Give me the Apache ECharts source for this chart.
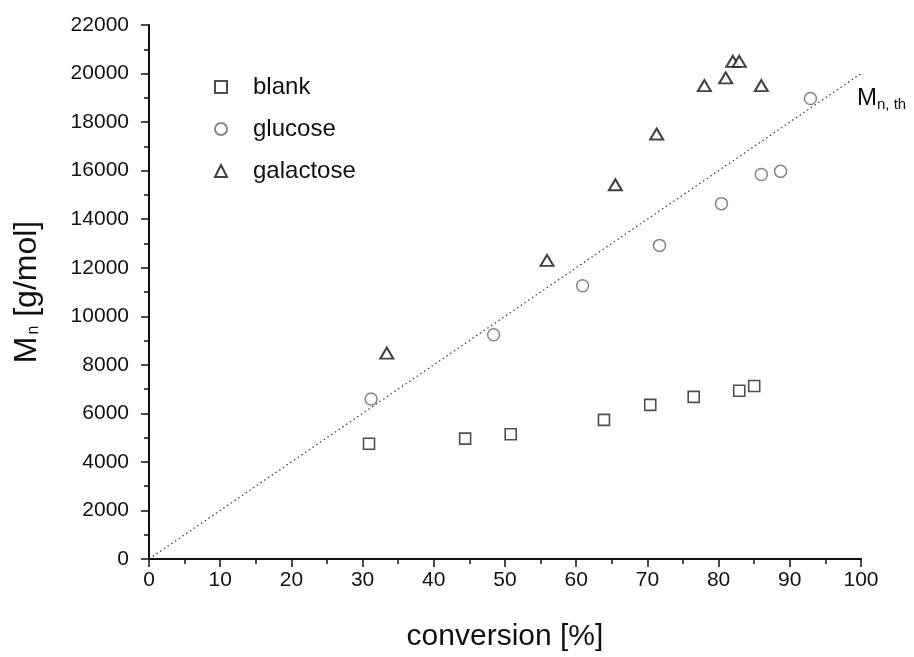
<!DOCTYPE html>
<html><head><meta charset="utf-8">
<script src="https://cdn.jsdelivr.net/npm/echarts@6/dist/echarts.min.js"></script>
<style>html,body{margin:0;padding:0;background:#fff}#c{width:914px;height:657px}</style>
</head><body><div id="c"></div>
<script>
// conversion [%] and Mn [g/mol]
const blankX = [30.9, 44.4, 50.8, 63.9, 70.4, 76.5, 82.9, 85.0];
const blankY = [4750, 4960, 5140, 5730, 6350, 6680, 6930, 7130];
const glucoseX = [31.2, 48.4, 60.9, 71.7, 80.4, 86.0, 88.7, 92.9];
const glucoseY = [6590, 9240, 11260, 12920, 14640, 15840, 15970, 18970];
const galactoseX = [33.4, 55.9, 65.5, 71.3, 78.0, 81.0, 82.0, 82.9, 86.0];
const galactoseY = [8480, 12300, 15420, 17510, 19500, 19820, 20500, 20500, 19500];
const theoryX = [0, 100];
const theoryY = [0, 20000];
const xTicks = [0, 10, 20, 30, 40, 50, 60, 70, 80, 90, 100];
const yTicks = [0, 2000, 4000, 6000, 8000, 10000, 12000, 14000, 16000, 18000, 20000, 22000];

const zip = (xs, ys) => xs.map((x, i) => [x, ys[i]]);
const FONT = 'Liberation Sans, Arial, sans-serif';

const chart = echarts.init(document.getElementById('c'));
chart.setOption({
  backgroundColor: '#fff',
  animation: false,
  grid: { left: 149, right: 53, top: 25, bottom: 98 },
  legend: {
    orient: 'vertical', left: 209, top: 70, itemGap: 18,
    itemWidth: 12, itemHeight: 12,
    textStyle: { fontFamily: FONT, fontSize: 24, color: '#111', padding: [0, 0, 0, 21] },
    data: ['blank', 'glucose', 'galactose']
  },
  xAxis: {
    type: 'value', min: xTicks[0], max: xTicks[xTicks.length - 1], interval: 10,
    name: 'conversion [%]', nameLocation: 'middle', nameGap: 63,
    nameTextStyle: { fontFamily: FONT, fontSize: 30, color: '#111' },
    axisLine: { show: true, onZero: false, lineStyle: { color: '#111', width: 2 } },
    axisTick: { show: true, inside: false, length: 8, lineStyle: { color: '#111', width: 1.5 } },
    minorTick: { show: true, splitNumber: 2, length: 5, lineStyle: { color: '#111', width: 1.5 } },
    axisLabel: { fontFamily: FONT, fontSize: 21, color: '#111', margin: 11, formatter: v => String(v) },
    splitLine: { show: false }
  },
  yAxis: {
    type: 'value', min: yTicks[0], max: yTicks[yTicks.length - 1], interval: 2000,
    name: '{m|M}{s|n}{m| [g/mol]}', nameLocation: 'middle', nameGap: 106, nameRotate: 90,
    nameTextStyle: {
      fontFamily: FONT, color: '#111',
      rich: {
        m: { fontFamily: FONT, fontSize: 32, color: '#111' },
        s: { fontFamily: FONT, fontSize: 16, color: '#111', padding: [14, 0, 0, 2] }
      }
    },
    axisLine: { show: true, onZero: false, lineStyle: { color: '#111', width: 2 } },
    axisTick: { show: true, inside: false, length: 8, lineStyle: { color: '#111', width: 1.5 } },
    minorTick: { show: true, splitNumber: 2, length: 5, lineStyle: { color: '#111', width: 1.5 } },
    axisLabel: { fontFamily: FONT, fontSize: 21, color: '#111', margin: 20, formatter: v => String(v) },
    splitLine: { show: false }
  },
  series: [
    {
      name: 'theory', type: 'line', data: zip(theoryX, theoryY),
      symbol: 'none', showSymbol: false, z: 1,
      lineStyle: { color: '#333', width: 1.2, type: [1.5, 3] },
      endLabel: {
        show: true, offset: [-12, 25],
        formatter: '{m|M}{s|n, th}',
        rich: {
          m: { fontFamily: FONT, fontSize: 24, color: '#111' },
          s: { fontFamily: FONT, fontSize: 15, color: '#111', padding: [12, 0, 0, 0] }
        }
      }
    },
    {
      name: 'blank', type: 'scatter', data: zip(blankX, blankY),
      symbol: 'rect', symbolSize: 11,
      itemStyle: { color: '#fff', borderColor: '#222', borderWidth: 1.6 }
    },
    {
      name: 'glucose', type: 'scatter', data: zip(glucoseX, glucoseY),
      symbol: 'circle', symbolSize: 12,
      itemStyle: { color: '#fff', borderColor: '#666', borderWidth: 1.5 }
    },
    {
      name: 'galactose', type: 'scatter', data: zip(galactoseX, galactoseY),
      symbol: 'triangle', symbolSize: [13, 11],
      itemStyle: { color: '#fff', borderColor: '#111', borderWidth: 2 }
    }
  ]
});
</script>
</body></html>
